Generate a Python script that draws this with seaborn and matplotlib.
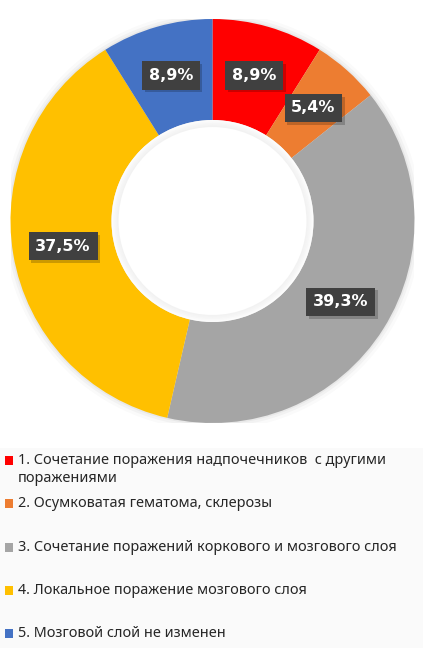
import matplotlib
matplotlib.use("Agg")
import matplotlib.pyplot as plt
import matplotlib.patches as mpatches
import matplotlib.patheffects as pe
import seaborn as sns

# Data
labels = [
    "1. Сочетание поражения надпочечников  с другими\nпоражениями",
    "2. Осумковатая гематома, склерозы",
    "3. Сочетание поражений коркового и мозгового слоя",
    "4. Локальное поражение мозгового слоя",
    "5. Мозговой слой не изменен",
]
shares = [8.9, 5.4, 39.3, 37.5, 8.9]
colors = ["#FF0000", "#ED7D31", "#A5A5A5", "#FFC000", "#4472C4"]

sns.set_theme(style="white")
plt.rcParams['font.family'] = ['Noto Sans', 'DejaVu Sans']

W, H = 430, 648
fig = plt.figure(figsize=(W / 100, H / 100), dpi=100)
fig.patch.set_facecolor("white")

# faint legend background panel
fig.patches.append(mpatches.Rectangle((0, 0), 423 / W, (H - 448) / H,
                                      transform=fig.transFigure,
                                      facecolor="#fafafa", edgecolor="none",
                                      zorder=0))

# donut axes: centre (212.5, 221) px, radius 202 px
cx, cy, r = 212.5, 221, 202
ax = fig.add_axes([(cx - r) / W, (H - cy - r) / H, 2 * r / W, 2 * r / H])
ax.set_facecolor("none")

# soft shadow around the ring
for k, a in [(1.035, 0.02), (1.02, 0.03), (1.008, 0.04)]:
    ax.add_patch(mpatches.Circle((0, 0), k, color="black", alpha=a, lw=0, zorder=0))


def fmt(p):
    return f"{p:.1f}".replace(".", ",") + "%"


wedges, texts, autotexts = ax.pie(
    shares, colors=colors, startangle=90, counterclock=False, radius=1,
    wedgeprops=dict(width=0.5, edgecolor="none", linewidth=0),
    autopct=fmt, pctdistance=0.75,
)
for w in wedges:
    w.set_zorder(2)

# inner hole with a soft shadow on its rim
ax.add_patch(mpatches.Circle((0, 0), 0.5, color="white", lw=0, zorder=3))
for k, a in [(0.5, 0.012), (0.493, 0.012), (0.486, 0.01), (0.479, 0.008), (0.472, 0.006)]:
    ax.add_patch(mpatches.Circle((0, 0), k, color="black", alpha=a, lw=0, zorder=3))
ax.add_patch(mpatches.Circle((0, 0), 0.465, color="white", lw=0, zorder=3))

for t in autotexts:
    t.set_zorder(5)
    t.set_color("white")
    t.set_fontsize(11.5)
    t.set_fontfamily("DejaVu Sans")
    t.set_fontweight("bold")
    t.set_bbox(dict(boxstyle="square,pad=0.42", facecolor="#404040",
                    edgecolor="none"))
    t.get_bbox_patch().set_path_effects([
        pe.SimplePatchShadow(offset=(2, -2), shadow_rgbFace="black", alpha=0.2),
        pe.Normal()])

ax.set_xlim(-1, 1)
ax.set_ylim(-1, 1)
ax.axis("off")

# legend drawn as rows of square marker + text
row_y = [460, 503, 547, 590, 633]
for lab, col, yy in zip(labels, colors, row_y):
    fig.patches.append(mpatches.Rectangle((4.5 / W, (H - yy - 4.5) / H), 8.5 / W, 9 / H,
                                          transform=fig.transFigure,
                                          facecolor=col, edgecolor="none"))
    fig.text(17.5 / W, (H - yy + 7) / H, lab, fontsize=10.4, color="#262626",
             va="top", ha="left", linespacing=1.3)

fig.savefig("out.png", dpi=100)
